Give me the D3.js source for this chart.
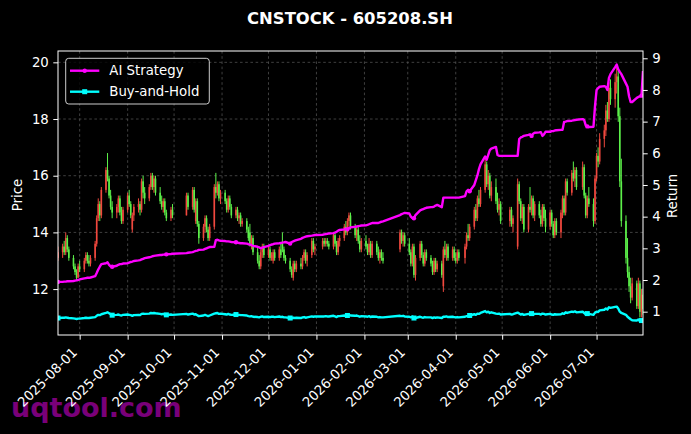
<!DOCTYPE html>
<html><head><meta charset="utf-8">
<script src="https://cdn.jsdelivr.net/npm/d3@7"></script>
<style>html,body{margin:0;padding:0;background:#000;} svg{display:block;font-family:"DejaVu Sans",sans-serif;}</style>
</head><body><svg id="c" width="691" height="434"></svg>
<script>
// ---------------- DATA ----------------
const title = "CNSTOCK - 605208.SH";
const startDate = "2025-07-18";
const endDate = "2026-07-31";
const holidays = ["2025-10-01","2025-10-02","2025-10-03","2025-10-06","2025-10-07","2025-10-08",
  "2026-01-01","2026-01-02","2026-02-16","2026-02-17","2026-02-18","2026-02-19","2026-02-20","2026-02-23",
  "2026-04-06","2026-05-01","2026-05-04","2026-05-05","2026-06-19"];

const opens = [13.1,13.3,13.5,13.3,13.8,13.4,13.1,12.8,12.6,12.4,12.8,
12.7,13.0,13.2,13.0,12.9,
13.1,13.6,14.5,15.0,14.6,
15.5,16.2,15.9,15.3,14.9,
14.7,14.9,15.2,14.7,14.4,
14.8,15.3,15.0,14.1,14.6,
14.9,15.0,14.8,15.8,15.4,
15.2,15.6,16.0,15.6,15.9,
15.4,15.1,14.9,15.1,14.7,
14.5,14.8,
14.6,15.3,
14.9,15.5,14.4,15.1,14.3,
13.8,14.2,14.5,14.1,13.8,
14.2,15.6,15.4,15.7,15.2,
15.4,15.1,14.8,15.2,14.9,
14.6,14.8,14.5,14.6,14.3,
14.4,14.1,14.0,13.6,13.8,
13.3,13.0,12.8,13.3,13.5,
13.2,13.4,13.1,13.0,13.3,
13.1,13.4,13.6,13.4,13.1,
13.0,12.7,12.4,12.9,12.7,
12.9,12.8,13.1,13.3,13.0,
13.2,13.7,13.4,
13.5,13.7,13.6,13.7,13.6,
13.5,13.9,13.6,13.3,13.7,
13.8,14.2,14.0,14.4,14.6,
14.2,13.9,14.1,13.7,13.4,
13.7,13.5,13.3,13.6,13.2,
13.6,13.3,13.1,13.3,13.1,
13.4,14.0,13.7,13.9,
13.6,13.3,12.9,13.5,12.5,
13.1,13.6,13.2,12.9,13.3,
13.1,12.9,12.6,13.0,12.7,
12.9,12.1,13.4,13.2,13.5,
13.1,13.4,13.1,13.0,13.3,
13.1,13.5,13.9,13.8,
14.2,14.8,14.5,15.2,15.0,
15.5,16.4,15.7,16.0,15.3,
15.6,15.1,14.8,15.0,
14.4,14.8,14.3,
13.5,15.7,15.1,14.5,14.9,
14.1,14.9,14.8,15.2,14.6,
15.0,14.6,14.3,14.9,14.5,
14.2,14.7,14.3,13.9,14.4,
14.0,14.7,15.2,14.7,15.8,
15.4,16.1,15.9,16.2,
15.6,16.3,15.3,14.6,15.2,
15.0,14.4,15.9,16.7,16.5,
17.3,17.6,18.3,18.0,19.1,
18.7,19.3,19.5,18.1,15.8,
14.4,13.1,12.6,12.1,11.7,
12.2,11.4,12.2,11.2,11.8];

const highs = [13.5,13.6,13.7,14.0,13.9,13.5,13.2,12.9,12.7,12.9,13.0,
13.1,13.3,13.3,13.2,13.2,
13.7,14.6,15.2,15.1,15.6,
16.3,16.8,16.0,15.5,15.1,
15.0,15.3,15.3,14.9,14.9,
15.4,15.5,15.1,14.7,15.0,
15.2,15.1,15.9,16.0,15.6,
15.7,16.1,16.1,16.0,16.0,
15.6,15.3,15.2,15.2,14.8,
14.9,15.0,
15.4,15.4,
15.6,15.6,15.2,15.2,14.4,
14.3,14.6,14.6,14.2,14.3,
15.7,16.1,15.8,15.8,15.5,
15.5,15.2,15.3,15.3,15.0,
14.9,14.9,14.7,14.7,14.5,
14.5,14.2,14.3,13.9,13.9,
13.5,13.2,13.4,13.6,13.6,
13.5,13.5,13.3,13.4,13.4,
13.5,13.6,14.0,13.5,13.2,
13.1,12.8,13.0,13.0,13.0,
13.1,13.2,13.4,13.4,13.3,
13.8,13.8,13.6,
13.8,13.8,13.8,13.8,13.7,
14.0,14.0,13.7,13.8,13.9,
14.3,14.4,14.5,14.7,14.7,
14.3,14.2,14.2,13.9,13.8,
13.9,13.6,13.8,13.7,13.7,
13.7,13.5,13.4,13.4,13.3,
14.1,14.1,14.0,14.0,
13.8,13.4,13.6,13.6,13.2,
13.7,13.7,13.3,13.4,13.4,
13.2,13.0,13.1,13.1,13.0,
13.0,13.5,13.7,13.6,13.6,
13.5,13.5,13.3,13.4,13.4,
13.6,14.0,14.3,14.3,
14.9,15.0,15.3,15.5,15.6,
16.6,16.5,16.2,16.1,15.8,
15.9,15.4,15.2,15.1,
14.9,14.9,14.6,
15.9,15.8,15.2,15.0,15.0,
15.0,15.6,15.3,15.3,15.1,
15.1,14.8,15.0,15.0,14.8,
14.8,14.8,14.4,14.5,14.5,
14.8,15.3,15.3,15.9,15.9,
16.2,16.5,16.3,16.3,
16.5,16.4,15.4,15.3,15.6,
15.2,16.0,16.8,17.0,17.5,
17.8,18.5,18.6,19.3,19.4,
19.6,19.8,19.7,18.4,16.6,
14.6,13.8,12.8,12.4,12.4,
12.3,12.4,12.3,12.0,12.0];

const lows = [13.0,13.1,13.2,13.2,13.3,13.0,12.7,12.5,12.3,12.4,12.6,
12.6,12.9,12.9,12.8,12.8,
13.0,13.5,14.4,14.4,14.5,
15.4,15.8,15.2,14.8,14.5,
14.5,14.7,14.6,14.3,14.3,
14.7,14.9,14.5,14.0,14.4,
14.7,14.6,14.7,15.2,15.0,
15.1,15.5,15.5,15.4,15.3,
15.0,14.8,14.7,14.6,14.4,
14.4,14.5,
14.6,14.8,
14.8,14.7,14.3,14.2,13.6,
13.7,14.0,14.0,13.7,13.7,
14.1,15.2,15.3,15.1,15.0,
15.0,14.7,14.7,14.8,14.5,
14.5,14.4,14.3,14.2,14.2,
14.0,13.7,13.5,13.4,13.2,
12.9,12.7,12.7,13.1,13.1,
13.1,13.0,13.0,12.9,13.0,
13.0,13.1,13.3,13.0,12.9,
12.6,12.4,12.3,12.6,12.6,
12.7,12.7,13.0,12.9,12.8,
13.1,13.3,13.2,
13.4,13.5,13.5,13.5,13.4,
13.4,13.5,13.2,13.2,13.5,
13.7,13.9,13.9,14.2,14.1,
13.8,13.7,13.6,13.3,13.3,
13.4,13.2,13.2,13.1,13.1,
13.2,13.0,12.9,13.0,12.9,
13.3,13.6,13.5,13.5,
13.2,12.8,12.8,12.4,12.3,
13.0,13.1,12.8,12.8,13.0,
12.8,12.5,12.5,12.6,12.6,
12.4,11.9,13.1,13.0,13.0,
13.0,13.0,12.9,12.9,13.0,
12.9,13.4,13.7,13.7,
14.1,14.4,14.4,14.9,14.9,
15.4,15.6,15.5,15.2,15.1,
15.0,14.7,14.6,14.3,
14.2,14.2,14.0,
13.4,15.0,14.4,14.3,14.0,
14.0,14.7,14.6,14.5,14.4,
14.5,14.2,14.2,14.4,14.0,
14.1,14.2,13.8,13.8,13.9,
13.8,14.5,14.6,14.6,15.3,
15.3,15.8,15.6,15.5,
15.5,15.2,14.5,14.5,14.9,
14.2,14.3,15.8,16.3,16.4,
17.0,17.4,17.9,17.9,18.5,
18.4,18.9,17.9,15.6,14.2,
12.9,12.4,11.9,11.5,11.6,
11.3,11.3,11.0,11.0,11.1];

const closes = [13.3,13.5,13.3,13.8,13.4,13.1,12.8,12.6,12.4,12.8,12.7,
13.0,13.2,13.0,12.9,13.1,
13.6,14.5,15.0,14.6,15.5,
16.2,15.9,15.3,14.9,14.7,
14.9,15.2,14.7,14.4,14.8,
15.3,15.0,14.6,14.6,14.9,
15.0,14.8,15.8,15.4,15.2,
15.6,16.0,15.6,15.9,15.4,
15.1,14.9,15.1,14.7,14.5,
14.8,14.6,
15.3,14.9,
15.5,14.8,15.1,14.3,13.8,
14.2,14.5,14.1,13.8,14.2,
15.6,15.4,15.7,15.2,15.4,
15.1,14.8,15.2,14.9,14.6,
14.8,14.5,14.6,14.3,14.4,
14.1,13.8,13.6,13.8,13.3,
13.0,12.8,13.3,13.5,13.2,
13.4,13.1,13.2,13.3,13.1,
13.4,13.2,13.4,13.1,13.0,
12.7,12.5,12.9,12.7,12.9,
12.8,13.1,13.3,13.0,13.2,
13.7,13.4,13.5,
13.7,13.6,13.7,13.6,13.5,
13.9,13.6,13.3,13.7,13.8,
14.2,14.0,14.4,14.6,14.2,
13.9,14.1,13.7,13.4,13.7,
13.5,13.3,13.6,13.2,13.6,
13.3,13.1,13.3,13.1,13.0,
14.0,13.7,13.9,13.6,
13.3,12.9,13.5,12.5,13.1,
13.6,13.2,12.9,13.3,13.1,
12.9,12.6,13.0,12.7,12.9,
12.5,13.4,13.2,13.5,13.1,
13.4,13.1,13.0,13.3,13.1,
13.5,13.9,13.8,14.2,
14.8,14.5,15.2,15.0,15.5,
16.4,15.7,16.0,15.3,15.6,
15.1,14.8,15.0,14.4,
14.8,14.3,14.5,
15.7,15.1,14.5,14.9,14.1,
14.9,14.8,15.2,14.6,15.0,
14.6,14.3,14.9,14.5,14.2,
14.7,14.3,13.9,14.4,14.0,
14.7,15.2,14.7,15.8,15.4,
16.1,15.9,16.2,15.6,
16.3,15.3,14.6,15.2,15.0,
14.4,15.9,16.7,16.5,17.3,
17.6,18.3,18.0,19.1,18.7,
19.3,19.5,18.1,15.8,14.4,
13.1,12.6,12.1,11.7,12.2,
11.4,12.2,11.2,11.8,11.3];

const aiStrategy = [1.94,1.94,1.95,1.95,1.96,1.96,1.97,1.98,1.99,2.0,2.02,
2.05,2.06,2.07,2.07,2.08,
2.12,2.22,2.33,2.42,2.5,
2.53,2.56,2.48,2.43,2.42,
2.45,2.48,2.5,2.5,2.52,
2.53,2.55,2.57,2.58,2.6,
2.62,2.63,2.65,2.67,2.69,
2.72,2.73,2.75,2.76,2.77,
2.79,2.79,2.8,2.8,2.81,
2.82,2.83,
2.85,2.86,
2.88,2.9,2.92,2.93,2.95,
2.96,2.98,3.0,3.02,3.04,
3.05,3.26,3.27,3.25,3.24,
3.23,3.22,3.22,3.21,3.2,
3.19,3.18,3.17,3.16,3.16,
3.15,3.13,3.12,3.1,3.08,
3.05,3.03,3.0,3.02,3.04,
3.08,3.1,3.12,3.13,3.15,
3.16,3.17,3.18,3.19,3.2,
3.15,3.2,3.22,3.24,3.26,
3.3,3.33,3.35,3.37,3.38,
3.4,3.41,3.42,
3.43,3.44,3.45,3.46,3.47,
3.48,3.5,3.52,3.56,3.58,
3.6,3.62,3.6,3.64,3.66,
3.68,3.69,3.7,3.71,3.72,
3.73,3.74,3.76,3.78,3.8,
3.8,3.8,3.82,3.84,3.85,
4.05,4.08,4.1,4.12,
4.1,4.0,3.95,3.95,4.05,
4.2,4.22,4.24,4.26,4.28,
4.3,4.3,4.32,4.35,4.37,
4.3,4.6,4.6,4.6,4.6,
4.6,4.6,4.6,4.6,4.6,
4.65,4.8,4.85,4.8,
5.0,5.15,5.3,5.5,5.65,
5.9,5.8,5.95,6.1,6.15,
6.2,5.95,5.92,5.92,
5.92,5.92,5.92,
5.92,6.45,6.5,6.52,6.55,
6.58,6.6,6.55,6.62,6.65,
6.66,6.67,6.55,6.6,6.68,
6.68,6.7,6.7,6.72,6.73,
6.74,6.74,6.99,7.0,7.02,
7.03,7.04,7.05,7.06,
7.08,7.05,6.88,6.85,6.83,
6.84,7.5,8.0,8.06,8.1,
8.12,8.1,8.0,8.38,8.5,
8.72,8.8,8.65,8.57,8.5,
8.2,8.1,7.8,7.62,7.62,
7.75,7.78,7.8,7.82,8.6];

const buyHold = [0.8,0.81,0.81,0.82,0.81,0.8,0.79,0.78,0.77,0.78,0.78,
0.8,0.81,0.8,0.8,0.81,
0.83,0.87,0.9,0.89,0.92,
0.96,0.98,0.95,0.92,0.89,
0.9,0.91,0.89,0.88,0.9,
0.91,0.9,0.89,0.87,0.89,
0.9,0.89,0.93,0.94,0.93,
0.94,0.96,0.95,0.96,0.95,
0.93,0.92,0.93,0.91,0.9,
0.91,0.9,
0.93,0.91,
0.94,0.91,0.92,0.89,0.86,
0.88,0.9,0.88,0.86,0.88,
0.94,0.95,0.96,0.93,0.94,
0.92,0.91,0.93,0.91,0.9,
0.91,0.9,0.9,0.89,0.89,
0.88,0.86,0.85,0.86,0.84,
0.83,0.82,0.84,0.85,0.83,
0.84,0.83,0.84,0.84,0.83,
0.85,0.83,0.84,0.82,0.82,
0.8,0.79,0.81,0.8,0.81,
0.8,0.82,0.83,0.81,0.82,
0.85,0.84,0.85,
0.85,0.85,0.86,0.85,0.85,
0.87,0.85,0.83,0.86,0.86,
0.88,0.87,0.88,0.9,0.88,
0.87,0.88,0.86,0.84,0.86,
0.85,0.84,0.86,0.83,0.85,
0.84,0.82,0.83,0.82,0.82,
0.87,0.86,0.87,0.85,
0.84,0.82,0.85,0.8,0.8,
0.84,0.82,0.81,0.83,0.82,
0.82,0.8,0.82,0.81,0.82,
0.8,0.84,0.84,0.85,0.83,
0.84,0.83,0.82,0.83,0.82,
0.84,0.86,0.86,0.88,
0.92,0.9,0.94,0.93,0.96,
1.02,0.98,1.0,0.96,0.98,
0.94,0.93,0.94,0.91,
0.93,0.91,0.92,
0.97,0.94,0.91,0.93,0.9,
0.93,0.92,0.94,0.91,0.93,
0.93,0.91,0.94,0.93,0.91,
0.93,0.91,0.9,0.92,0.91,
0.92,0.95,0.93,0.98,0.96,
1.0,0.99,1.01,0.98,
1.0,0.96,0.92,0.94,0.93,
0.9,0.97,1.0,0.99,1.04,
1.06,1.1,1.07,1.14,1.12,
1.15,1.16,1.1,1.0,0.96,
0.9,0.84,0.8,0.76,0.73,
0.72,0.75,0.7,0.72,0.67];

const priceTicks = [12, 14, 16, 18, 20];
const returnTicks = [1, 2, 3, 4, 5, 6, 7, 8, 9];
const dateTicks = ["2025-08-01","2025-09-01","2025-10-01","2025-11-01","2025-12-01","2026-01-01",
  "2026-02-01","2026-03-01","2026-04-01","2026-05-01","2026-06-01","2026-07-01"];
const seriesNames = ["AI Strategy", "Buy-and-Hold"];
const markEvery = 25;

// ---------------- LAYOUT ----------------
const W = 691, H = 434;
const L = 58, R = 643, T = 51, B = 335;
const fmt = d3.utcParse("%Y-%m-%d");
const holidaySet = new Set(holidays);
const dates = d3.utcDay.range(fmt(startDate), d3.utcDay.offset(fmt(endDate), 1))
  .filter(d => d.getUTCDay() !== 0 && d.getUTCDay() !== 6 && !holidaySet.has(d3.utcFormat("%Y-%m-%d")(d)));
const N = Math.min(dates.length, closes.length);

const x = d3.scaleUtc().domain([fmt(startDate), fmt(endDate)]).range([L, R]);
const yP = d3.scaleLinear().domain([10.38, 20.40]).range([B, T]);
const yR = d3.scaleLinear().domain([0.264, 9.23]).range([B, T]);

const svg = d3.select("#c");
svg.append("rect").attr("width", W).attr("height", H).attr("fill", "#000");

// watermark
svg.append("text").attr("x", 11).attr("y", 417).text("uqtool.com")
  .attr("font-size", 27).attr("font-weight", "bold").attr("fill", "#800080").attr("opacity", 0.95);

svg.append("defs").append("clipPath").attr("id", "clip")
  .append("rect").attr("x", L).attr("y", T).attr("width", R - L).attr("height", B - T);

// grid
const grid = svg.append("g").attr("stroke", "#5a5a5a").attr("stroke-width", 0.7).attr("stroke-dasharray", "2.6,2.6");
priceTicks.forEach(v => grid.append("line").attr("x1", L).attr("x2", R).attr("y1", yP(v)).attr("y2", yP(v)));
dateTicks.forEach(s => grid.append("line").attr("x1", x(fmt(s))).attr("x2", x(fmt(s))).attr("y1", T).attr("y2", B));

// candles
const up = "#f0483e", down = "#5cf04a";
const cg = svg.append("g").attr("clip-path", "url(#clip)");
for (let i = 0; i < N; i++) {
  const cx = x(dates[i]);
  const col = closes[i] >= opens[i] ? up : down;
  cg.append("line").attr("x1", cx).attr("x2", cx).attr("y1", yP(highs[i])).attr("y2", yP(lows[i]))
    .attr("stroke", col).attr("stroke-width", 1);
  const y1 = yP(Math.max(opens[i], closes[i])), y2 = yP(Math.min(opens[i], closes[i]));
  cg.append("rect").attr("x", cx - 0.8).attr("width", 1.6).attr("y", y1).attr("height", Math.max(0.8, y2 - y1))
    .attr("fill", col);
}

// lines
const lg = svg.append("g").attr("clip-path", "url(#clip)");
const idx = d3.range(N);
const lineAI = d3.line().x(i => x(dates[i])).y(i => yR(aiStrategy[i]));
const lineBH = d3.line().x(i => x(dates[i])).y(i => yR(buyHold[i]));
lg.append("path").attr("d", lineBH(idx)).attr("fill", "none").attr("stroke", "#00ffff").attr("stroke-width", 2.4).attr("stroke-linejoin", "round");
lg.append("path").attr("d", lineAI(idx)).attr("fill", "none").attr("stroke", "#ff00ff").attr("stroke-width", 2.4).attr("stroke-linejoin", "round");
idx.filter(i => i % markEvery === 0).forEach(i => {
  lg.append("rect").attr("x", x(dates[i]) - 2.5).attr("y", yR(buyHold[i]) - 2.5).attr("width", 5).attr("height", 5).attr("fill", "#00ffff");
  lg.append("circle").attr("cx", x(dates[i])).attr("cy", yR(aiStrategy[i])).attr("r", 2.2).attr("fill", "#ff00ff");
});

// spines
svg.append("rect").attr("x", L).attr("y", T).attr("width", R - L).attr("height", B - T)
  .attr("fill", "none").attr("stroke", "#fff").attr("stroke-width", 1);

// axes
const fs = 13.3;
const axL = svg.append("g").attr("transform", `translate(${L},0)`)
  .call(d3.axisLeft(yP).tickValues(priceTicks).tickSize(4.7).tickPadding(4.5).tickFormat(d3.format("d")));
const axR = svg.append("g").attr("transform", `translate(${R},0)`)
  .call(d3.axisRight(yR).tickValues(returnTicks).tickSize(4.7).tickPadding(4.5).tickFormat(d3.format("d")));
const axB = svg.append("g").attr("transform", `translate(0,${B})`)
  .call(d3.axisBottom(x).tickValues(dateTicks.map(fmt)).tickSize(4.7).tickFormat(d3.utcFormat("%Y-%m-%d")));
[axL, axR, axB].forEach(a => {
  a.select(".domain").remove();
  a.selectAll("line").attr("stroke", "#fff").attr("stroke-width", 1);
  a.selectAll("text").attr("fill", "#fff").attr("font-size", fs).attr("font-family", "DejaVu Sans");
});
axB.selectAll("text")
  .attr("text-anchor", "end").attr("dy", null).attr("y", null)
  .attr("transform", "translate(-2.2,18.2) rotate(-45)");

// axis labels
svg.append("text").attr("transform", "translate(22,195) rotate(-90)").attr("text-anchor", "middle")
  .attr("fill", "#fff").attr("font-size", fs).text("Price");
svg.append("text").attr("transform", "translate(677,196) rotate(-90)").attr("text-anchor", "middle")
  .attr("fill", "#fff").attr("font-size", fs).text("Return");

// title
svg.append("text").attr("x", 350).attr("y", 23.5).attr("text-anchor", "middle")
  .attr("fill", "#fff").attr("font-size", 16.4).attr("font-weight", "bold").text(title);

// legend
const leg = svg.append("g");
leg.append("rect").attr("x", 65.7).attr("y", 58.3).attr("width", 143.6).attr("height", 45.7).attr("rx", 3)
  .attr("fill", "#000").attr("fill-opacity", 0.8).attr("stroke", "#cccccc").attr("stroke-width", 1);
const legCols = ["#ff00ff", "#00ffff"];
seriesNames.forEach((n, k) => {
  const ly = 70.7 + k * 21;
  leg.append("line").attr("x1", 70).attr("x2", 99.3).attr("y1", ly).attr("y2", ly).attr("stroke", legCols[k]).attr("stroke-width", 2.4);
  if (k === 0) leg.append("circle").attr("cx", 84.7).attr("cy", ly).attr("r", 2.2).attr("fill", legCols[k]);
  else leg.append("rect").attr("x", 82.2).attr("y", ly - 2.5).attr("width", 5).attr("height", 5).attr("fill", legCols[k]);
  leg.append("text").attr("x", 109.3).attr("y", ly + 4.7).attr("fill", "#fff").attr("font-size", fs).text(n);
});
</script></body></html>
